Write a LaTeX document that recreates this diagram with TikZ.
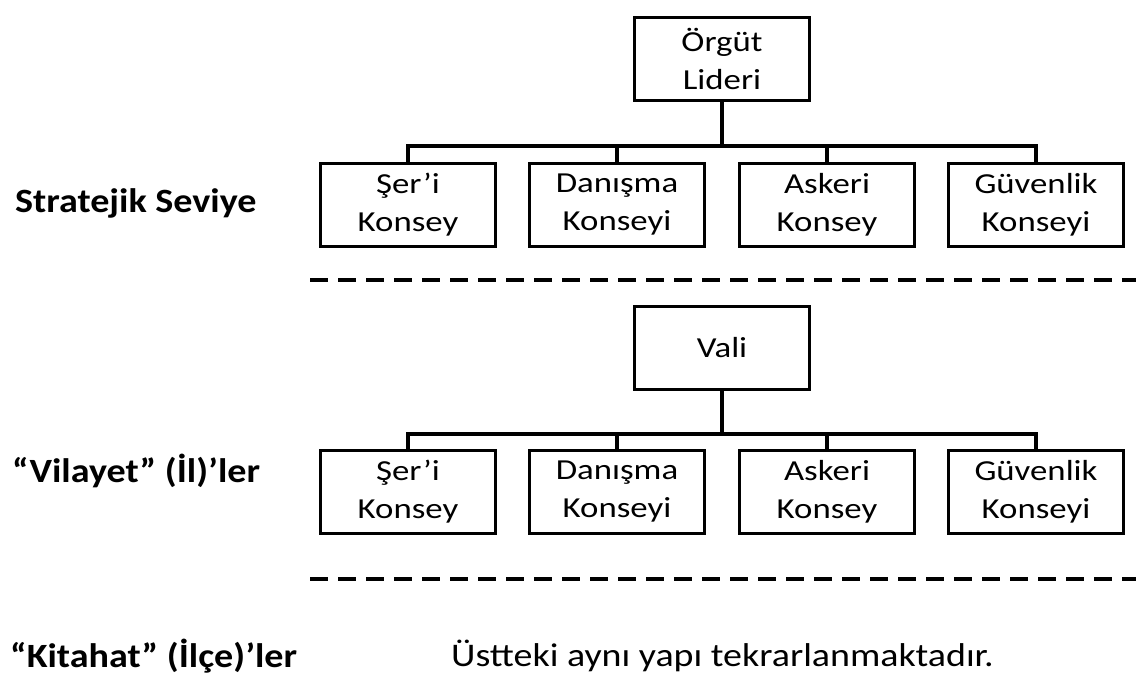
\documentclass[tikz,border=0pt]{standalone}
\usepackage{fontspec}
\setmainfont{Carlito}
\newfontfamily\boxfont[FakeStretch=1.2]{Carlito}
\newfontfamily\labfont[FakeStretch=1.12]{Carlito}
\newfontfamily\notefont[FakeStretch=1.15]{Carlito}
\begin{document}
\begin{tikzpicture}[x=1pt,y=-1pt,
  box/.style={draw, line width=3.2pt, minimum width=175pt, minimum height=83pt, inner sep=0pt, align=center, font=\boxfont\fontsize{29}{38}\selectfont},
  conn/.style={line width=3.2pt},
  sep/.style={line width=3.8pt, dash pattern=on 18pt off 10pt},
  lab/.style={anchor=west, inner sep=0pt, font=\labfont\bfseries\fontsize{34}{40}\selectfont},
  note/.style={anchor=west, inner sep=0pt, font=\notefont\fontsize{33}{40}\selectfont}]
\useasboundingbox (0,0) rectangle (1136,676);
% level 1
\node[box] (lead) at (722,59) {Örgüt\\Lideri};
\node[box] (s1) at (408,205) {Şer’i\\Konsey};
\node[box] (s2) at (617,205) {Danışma\\Konseyi};
\node[box] (s3) at (827,205) {Askeri\\Konsey};
\node[box] (s4) at (1036,205) {Güvenlik\\Konseyi};
\coordinate (b1) at (722,146);
\draw[conn] (lead.south) -- (b1);
\draw[conn] (s1.north) |- (b1) -| (s4.north);
\draw[conn] (s2.north) -- (s2.north |- b1);
\draw[conn] (s3.north) -- (s3.north |- b1);
\node[lab] (l1) at (15,203) {Stratejik Seviye};
% separator
\coordinate (d1a) at (310,280);
\coordinate (d1b) at (1136,280);
\draw[sep] (d1a) -- (d1b);
% level 2
\node[box] (vali) at (722,348) {Vali};
\node[box] (v1) at (408,492) {Şer’i\\Konsey};
\node[box] (v2) at (617,492) {Danışma\\Konseyi};
\node[box] (v3) at (827,492) {Askeri\\Konsey};
\node[box] (v4) at (1036,492) {Güvenlik\\Konseyi};
\coordinate (b2) at (722,434);
\draw[conn] (vali.south) -- (b2);
\draw[conn] (v1.north) |- (b2) -| (v4.north);
\draw[conn] (v2.north) -- (v2.north |- b2);
\draw[conn] (v3.north) -- (v3.north |- b2);
\node[lab] (l2) at (12,471) {“Vilayet” (İl)’ler};
% separator
\coordinate (d2a) at (310,579);
\coordinate (d2b) at (1136,579);
\draw[sep] (d2a) -- (d2b);
% level 3
\node[lab] (l3) at (10,656) {“Kitahat” (İlçe)’ler};
\node[note] (n3) at (451,656) {Üstteki aynı yapı tekrarlanmaktadır.};
\end{tikzpicture}
\end{document}
